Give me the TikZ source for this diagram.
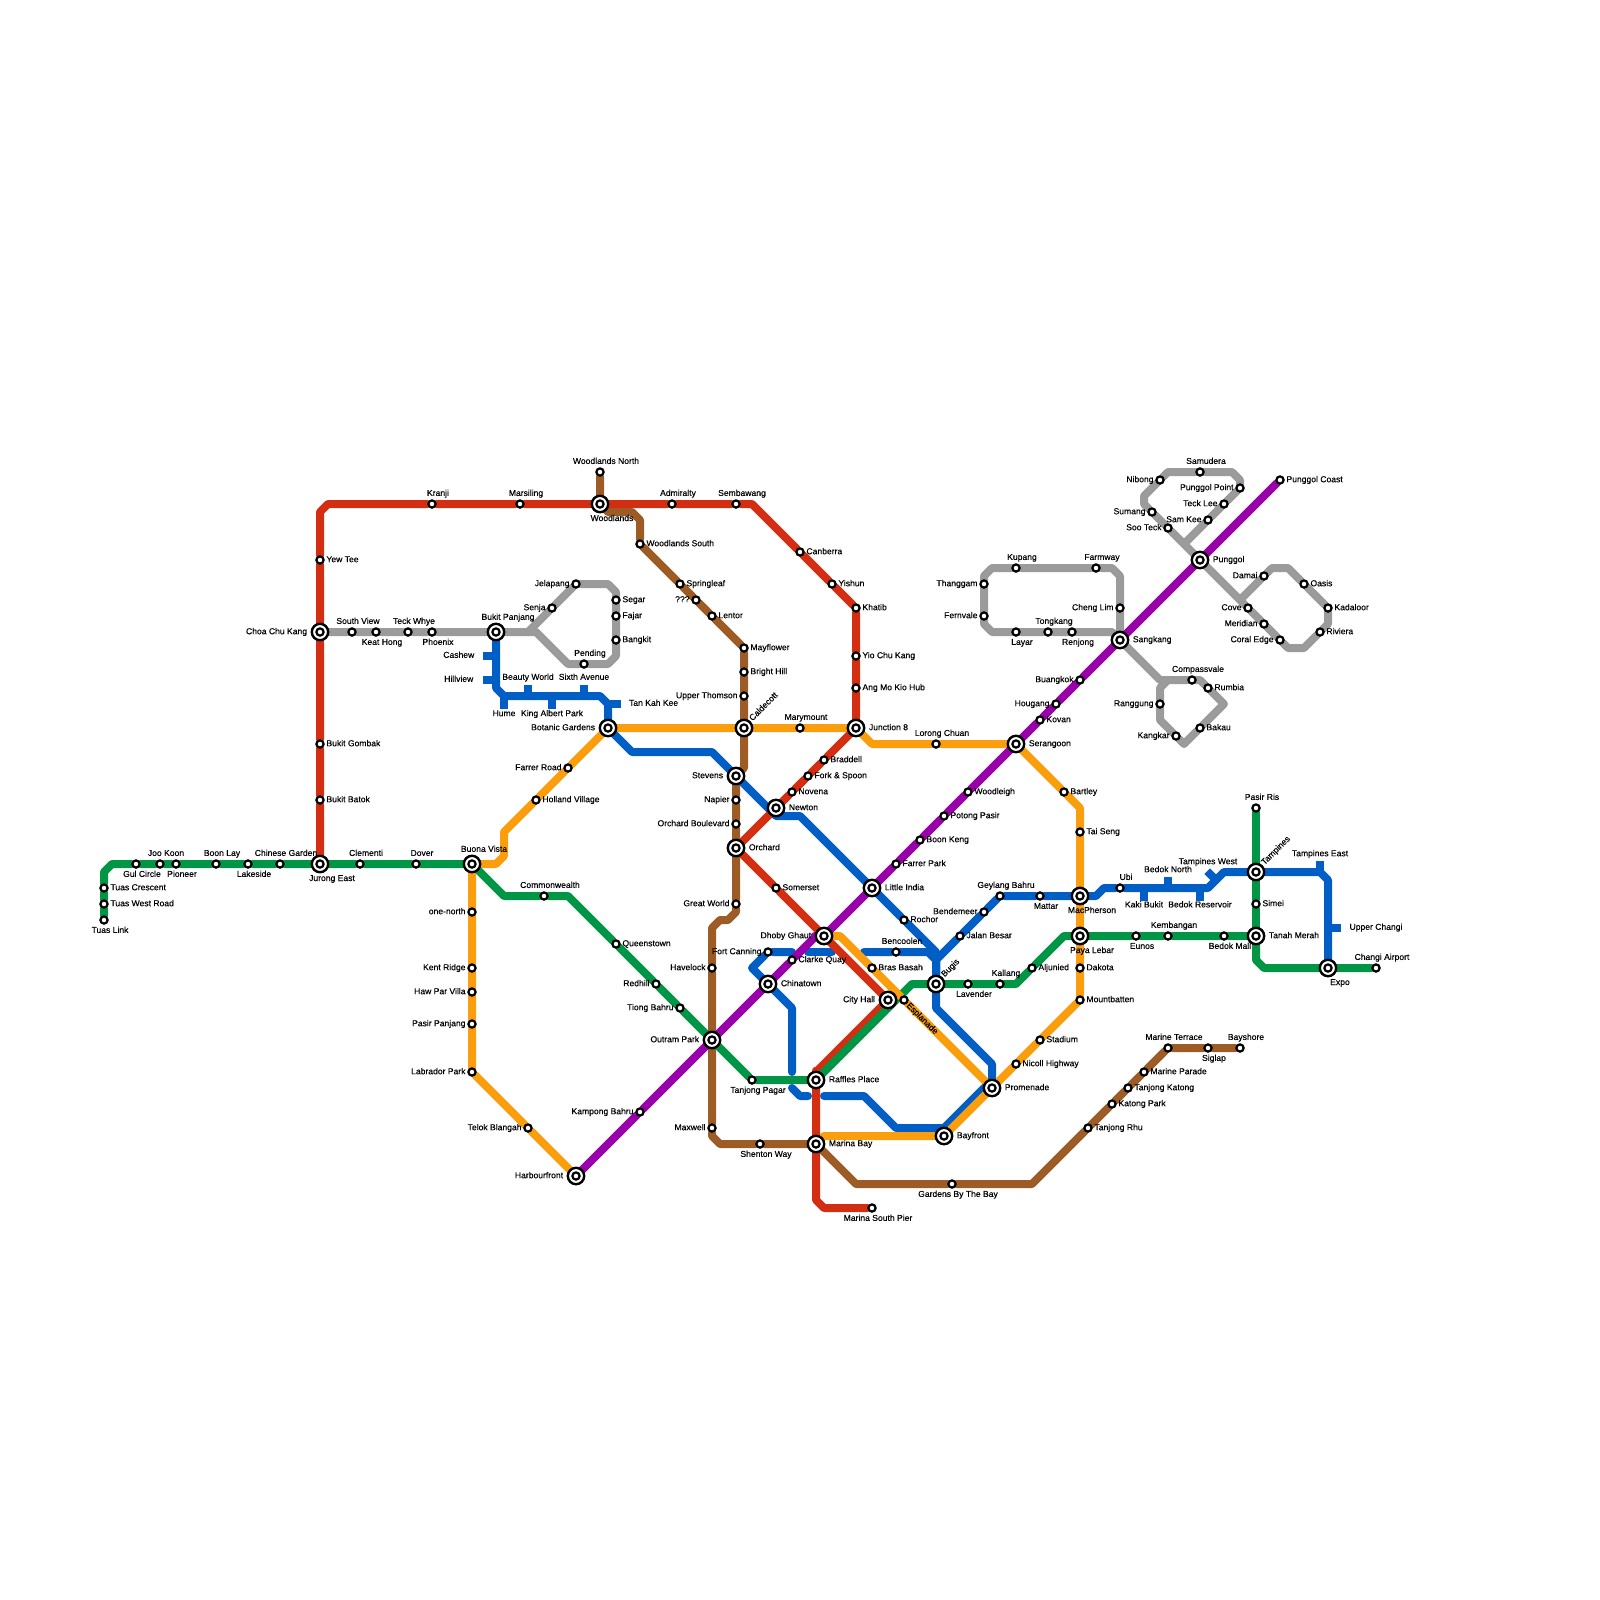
\documentclass[tikz,border=0pt]{standalone}
\usepackage{fontspec}
\setmainfont{Liberation Sans}[RawFeature={embolden=0.25}]
\definecolor{linered}{HTML}{D42E12}
\definecolor{linegreen}{HTML}{009645}
\definecolor{linepurple}{HTML}{9900AA}
\definecolor{lineorange}{HTML}{FA9E0D}
\definecolor{linebrown}{HTML}{9D5B25}
\definecolor{lineblue}{HTML}{005EC4}
\definecolor{linegrey}{HTML}{9B9B9B}
\pgfdeclarelayer{lines}
\pgfsetlayers{lines,main}
\tikzset{
  lbl/.style={font=\fontsize{3.05pt}{3.6pt}\selectfont,inner sep=0pt,text height=.75mm,text depth=.2mm},
  stn/.style={circle,draw=black,fill=white,line width=.28mm,minimum size=.9mm,inner sep=0pt},
  hub/.style={circle,draw=black,fill=white,line width=.3mm,minimum size=2.05mm,inner sep=0pt,
    path picture={\draw[line width=.28mm] (path picture bounding box.center) circle (.45mm);}},
  la/.style={label={[lbl,xshift=.75mm,label distance=.15mm]90:#1}},
  lb/.style={label={[lbl,xshift=.75mm,label distance=.2mm]-90:#1}},
  ll/.style={label={[lbl,label distance=.15mm]180:#1}},
  lr/.style={label={[lbl,label distance=.15mm]0:#1}},
  ha/.style={label={[lbl,xshift=1.5mm,label distance=.08mm]90:#1}},
  hb/.style={label={[lbl,xshift=1.5mm,label distance=.13mm]-90:#1}},
  hl/.style={label={[lbl,label distance=.37mm]180:#1}},
  hr/.style={label={[lbl,label distance=.37mm]0:#1}},
  rotup/.style={label={[lbl,rotate=45,anchor=west,label distance=.15mm]45:#1}},
  rotdn/.style={label={[lbl,rotate=-45,anchor=west,label distance=.1mm]-45:#1}},
  ln/.style={line width=1mm,line join=round,line cap=round},
  tick/.style={line width=1mm,line cap=butt,lineblue},
}
\begin{document}
\begin{tikzpicture}[x=1mm,y=-1mm]
  \useasboundingbox (0,0) rectangle (200,200);

  \node[stn,lb=Tuas Link] (tuaslink) at (13,115) {};
  \node[stn,lr=Tuas West Road] (tuaswestroad) at (13,113) {};
  \node[stn,lr=Tuas Crescent] (tuascrescent) at (13,111) {};
  \node[stn,lb=Gul Circle] (gulcircle) at (17,108) {};
  \node[stn,la=Joo Koon] (jookoon) at (20,108) {};
  \node[stn,lb=Pioneer] (pioneer) at (22,108) {};
  \node[stn,la=Boon Lay] (boonlay) at (27,108) {};
  \node[stn,lb=Lakeside] (lakeside) at (31,108) {};
  \node[stn,la=Chinese Garden] (chinesegarden) at (35,108) {};
  \node[hub,hb=Jurong East] (jurongeast) at (40,108) {};
  \node[stn,la=Clementi] (clementi) at (45,108) {};
  \node[stn,la=Dover] (dover) at (52,108) {};
  \node[hub,ha=Buona Vista] (buonavista) at (59,108) {};
  \node[stn,la=Commonwealth] (commonwealth) at (68,112) {};
  \node[stn,lr=Queenstown] (queenstown) at (77,118) {};
  \node[stn,ll=Redhill] (redhill) at (82,123) {};
  \node[stn,ll=Tiong Bahru] (tiongbahru) at (85,126) {};
  \node[hub,hl=Outram Park] (outrampark) at (89,130) {};
  \node[stn,lb=Tanjong Pagar] (tanjongpagar) at (94,135) {};
  \node[hub,hr=Raffles Place] (rafflesplace) at (102,135) {};
  \node[hub,hl=City Hall] (cityhall) at (111,125) {};
  \node[hub,rotup=Bugis] (bugis) at (117,123) {};
  \node[stn,lb=Lavender] (lavender) at (121,123) {};
  \node[stn,la=Kallang] (kallang) at (125,123) {};
  \node[stn,lr=Aljunied] (aljunied) at (129,121) {};
  \node[hub,hb=Paya Lebar] (payalebar) at (135,117) {};
  \node[stn,lb=Eunos] (eunos) at (142,117) {};
  \node[stn,la=Kembangan] (kembangan) at (146,117) {};
  \node[stn,lb=Bedok Mall] (bedokmall) at (153,117) {};
  \node[hub,hr=Tanah Merah] (tanahmerah) at (157,117) {};
  \node[hub,hb=Expo] (expo) at (166,121) {};
  \node[stn,la=Changi Airport] (changiairport) at (172,121) {};
  \node[stn,la=Pasir Ris] (pasirris) at (157,101) {};
  \node[hub,rotup=Tampines] (tampines) at (157,109) {};
  \node[stn,lr=Simei] (simei) at (157,113) {};

  \node[stn,lr=Yew Tee] (yewtee) at (40,70) {};
  \node[hub,hl=Choa Chu Kang] (choachukang) at (40,79) {};
  \node[stn,lr=Bukit Gombak] (bukitgombak) at (40,93) {};
  \node[stn,lr=Bukit Batok] (bukitbatok) at (40,100) {};
  \node[stn,la=Kranji] (kranji) at (54,63) {};
  \node[stn,la=Marsiling] (marsiling) at (65,63) {};
  \node[hub,hb=Woodlands] (woodlands) at (75,63) {};
  \node[stn,la=Admiralty] (admiralty) at (84,63) {};
  \node[stn,la=Sembawang] (sembawang) at (92,63) {};
  \node[stn,lr=Canberra] (canberra) at (100,69) {};
  \node[stn,lr=Yishun] (yishun) at (104,73) {};
  \node[stn,lr=Khatib] (khatib) at (107,76) {};
  \node[stn,lr=Yio Chu Kang] (yiochukang) at (107,82) {};
  \node[stn,lr=Ang Mo Kio Hub] (angmokiohub) at (107,86) {};
  \node[hub,hr=Junction 8] (junctioneight) at (107,91) {};
  \node[stn,lr=Braddell] (braddell) at (103,95) {};
  \node[stn,lr=Fork \& Spoon] (forkspoon) at (101,97) {};
  \node[stn,lr=Novena] (novena) at (99,99) {};
  \node[hub,hr=Newton] (newton) at (97,101) {};
  \node[hub,hr=Orchard] (orchard) at (92,106) {};
  \node[stn,lr=Somerset] (somerset) at (97,111) {};
  \node[hub,hl=Dhoby Ghaut] (dhobyghaut) at (103,117) {};
  \node[hub,hr=Marina Bay] (marinabay) at (102,143) {};
  \node[stn,lb=Marina South Pier] (marinasouthpier) at (109,151) {};

  \node[stn,la=South View] (southview) at (44,79) {};
  \node[stn,lb=Keat Hong] (keathong) at (47,79) {};
  \node[stn,la=Teck Whye] (teckwhye) at (51,79) {};
  \node[stn,lb=Phoenix] (phoenix) at (54,79) {};
  \node[hub,ha=Bukit Panjang] (bukitpanjang) at (62,79) {};
  \node[stn,ll=Senja] (senja) at (69,76) {};
  \node[stn,ll=Jelapang] (jelapang) at (72,73) {};
  \node[stn,lr=Segar] (segar) at (77,75) {};
  \node[stn,lr=Fajar] (fajar) at (77,77) {};
  \node[stn,lr=Bangkit] (bangkit) at (77,80) {};
  \node[stn,la=Pending] (pending) at (73,83) {};

  \node[stn,la=Woodlands North] (woodlandsnorth) at (75,59) {};
  \node[stn,lr=Woodlands South] (woodlandssouth) at (80,68) {};
  \node[stn,lr=Springleaf] (springleaf) at (85,73) {};
  \node[stn,ll=???] (unknown) at (87,75) {};
  \node[stn,lr=Lentor] (lentor) at (89,77) {};
  \node[stn,lr=Mayflower] (mayflower) at (93,81) {};
  \node[stn,lr=Bright Hill] (brighthill) at (93,84) {};
  \node[stn,ll=Upper Thomson] (upperthomson) at (93,87) {};
  \node[hub,rotup=Caldecott] (caldecott) at (93,91) {};
  \node[hub,hl=Stevens] (stevens) at (92,97) {};
  \node[stn,ll=Napier] (napier) at (92,100) {};
  \node[stn,ll=Orchard Boulevard] (orchardboulevard) at (92,103) {};
  \node[stn,ll=Great World] (greatworld) at (92,113) {};
  \node[stn,ll=Havelock] (havelock) at (89,121) {};
  \node[stn,ll=Maxwell] (maxwell) at (89,141) {};
  \node[stn,lb=Shenton Way] (shentonway) at (95,143) {};
  \node[stn,lb=Gardens By The Bay] (gardensbythebay) at (119,148) {};
  \node[stn,lr=Tanjong Rhu] (tanjongrhu) at (136,141) {};
  \node[stn,lr=Katong Park] (katongpark) at (139,138) {};
  \node[stn,lr=Tanjong Katong] (tanjongkatong) at (141,136) {};
  \node[stn,lr=Marine Parade] (marineparade) at (143,134) {};
  \node[stn,la=Marine Terrace] (marineterrace) at (146,131) {};
  \node[stn,lb=Siglap] (siglap) at (151,131) {};
  \node[stn,la=Bayshore] (bayshore) at (155,131) {};

  \node[hub,hl=Harbourfront] (harbourfront) at (72,147) {};
  \node[stn,ll=Telok Blangah] (telokblangah) at (66,141) {};
  \node[stn,ll=Labrador Park] (labradorpark) at (59,134) {};
  \node[stn,ll=Pasir Panjang] (pasirpanjang) at (59,128) {};
  \node[stn,ll=Haw Par Villa] (hawparvilla) at (59,124) {};
  \node[stn,ll=Kent Ridge] (kentridge) at (59,121) {};
  \node[stn,ll=one-north] (onenorth) at (59,114) {};
  \node[stn,lr=Holland Village] (hollandvillage) at (67,100) {};
  \node[stn,ll=Farrer Road] (farrerroad) at (71,96) {};
  \node[hub,hl=Botanic Gardens] (botanicgardens) at (76,91) {};
  \node[stn,la=Marymount] (marymount) at (100,91) {};
  \node[stn,la=Lorong Chuan] (lorongchuan) at (117,93) {};
  \node[hub,hr=Serangoon] (serangoon) at (127,93) {};
  \node[stn,lr=Bartley] (bartley) at (133,99) {};
  \node[stn,lr=Tai Seng] (taiseng) at (135,104) {};
  \node[hub,hb=MacPherson] (macpherson) at (135,112) {};
  \node[stn,lr=Dakota] (dakota) at (135,121) {};
  \node[stn,lr=Mountbatten] (mountbatten) at (135,125) {};
  \node[stn,lr=Stadium] (stadium) at (130,130) {};
  \node[stn,lr=Nicoll Highway] (nicollhighway) at (127,133) {};
  \node[hub,hr=Promenade] (promenade) at (124,136) {};
  \node[hub,hr=Bayfront] (bayfront) at (118,142) {};
  \node[stn,rotdn=Esplanade] (esplanade) at (113,125) {};
  \node[stn,lr=Bras Basah] (brasbasah) at (109,121) {};

  \node[stn,ll=Kampong Bahru] (kampongbahru) at (80,139) {};
  \node[hub,hr=Chinatown] (chinatown) at (96,123) {};
  \node[stn,lr=Clarke Quay] (clarkequay) at (99,120) {};
  \node[hub,hr=Little India] (littleindia) at (109,111) {};
  \node[stn,lr=Farrer Park] (farrerpark) at (112,108) {};
  \node[stn,lr=Boon Keng] (boonkeng) at (115,105) {};
  \node[stn,lr=Potong Pasir] (potongpasir) at (118,102) {};
  \node[stn,lr=Woodleigh] (woodleigh) at (121,99) {};
  \node[stn,lr=Kovan] (kovan) at (130,90) {};
  \node[stn,ll=Hougang] (hougang) at (132,88) {};
  \node[stn,ll=Buangkok] (buangkok) at (135,85) {};
  \node[hub,hr=Sangkang] (sangkang) at (140,80) {};
  \node[hub,hr=Punggol] (punggol) at (150,70) {};
  \node[stn,lr=Punggol Coast] (punggolcoast) at (160,60) {};

  \node[stn,ll=Fort Canning] (fortcanning) at (96,119) {};
  \node[stn,la=Bencoolen] (bencoolen) at (112,119) {};
  \node[stn,lr=Rochor] (rochor) at (113,115) {};
  \node[stn,lr=Jalan Besar] (jalanbesar) at (120,117) {};
  \node[stn,ll=Bendemeer] (bendemeer) at (123,114) {};
  \node[stn,la=Geylang Bahru] (geylangbahru) at (125,112) {};
  \node[stn,lb=Mattar] (mattar) at (130,112) {};
  \node[stn,la=Ubi] (ubi) at (140,111) {};

  \node[stn,la=Kupang] (kupang) at (127,71) {};
  \node[stn,la=Farmway] (farmway) at (137,71) {};
  \node[stn,ll=Thanggam] (thanggam) at (123,73) {};
  \node[stn,ll=Fernvale] (fernvale) at (123,77) {};
  \node[stn,lb=Layar] (layar) at (127,79) {};
  \node[stn,la=Tongkang] (tongkang) at (131,79) {};
  \node[stn,lb=Renjong] (renjong) at (134,79) {};
  \node[stn,ll=Cheng Lim] (chenglim) at (140,76) {};
  \node[stn,la=Samudera] (samudera) at (150,59) {};
  \node[stn,ll=Nibong] (nibong) at (145,60) {};
  \node[stn,ll=Sumang] (sumang) at (144,64) {};
  \node[stn,ll=Soo Teck] (sooteck) at (146,66) {};
  \node[stn,ll=Sam Kee] (samkee) at (151,65) {};
  \node[stn,ll=Teck Lee] (tecklee) at (153,63) {};
  \node[stn,ll=Punggol Point] (punggolpoint) at (155,61) {};
  \node[stn,ll=Damai] (damai) at (158,72) {};
  \node[stn,ll=Cove] (cove) at (156,76) {};
  \node[stn,ll=Meridian] (meridian) at (158,78) {};
  \node[stn,ll=Coral Edge] (coraledge) at (160,80) {};
  \node[stn,lr=Oasis] (oasis) at (163,73) {};
  \node[stn,lr=Kadaloor] (kadaloor) at (166,76) {};
  \node[stn,lr=Riviera] (riviera) at (165,79) {};
  \node[stn,la=Compassvale] (compassvale) at (149,85) {};
  \node[stn,lr=Rumbia] (rumbia) at (151,86) {};
  \node[stn,ll=Ranggung] (ranggung) at (145,88) {};
  \node[stn,ll=Kangkar] (kangkar) at (147,92) {};
  \node[stn,lr=Bakau] (bakau) at (150,91) {};

  \node[lbl] (cashew) at (57.35,81.95) {Cashew};
  \node[lbl] (hillview) at (57.35,84.95) {Hillview};
  \node[lbl] (hume) at (63,89.25) {Hume};
  \node[lbl] (beautyworld) at (66,84.7) {Beauty World};
  \node[lbl] (kingalbertpark) at (69,89.25) {King Albert Park};
  \node[lbl] (sixthavenue) at (73,84.7) {Sixth Avenue};
  \node[lbl] (tankahkee) at (81.7,87.95) {Tan Kah Kee};
  \node[lbl] (bedoknorth) at (146,108.75) {Bedok North};
  \node[lbl] (kakibukit) at (143,113.15) {Kaki Bukit};
  \node[lbl] (bedokreservoir) at (150,113.15) {Bedok Reservoir};
  \node[lbl] (tampineswest) at (151,107.75) {Tampines West};
  \node[lbl] (tampineseast) at (165,106.75) {Tampines East};
  \node[lbl] (upperchangi) at (172,115.95) {Upper Changi};

  \coordinate (cashewA) at (62,82);       \coordinate (cashewB) at (60.4,82);
  \coordinate (hillviewA) at (62,85);     \coordinate (hillviewB) at (60.4,85);
  \coordinate (humeA) at (63,87);         \coordinate (humeB) at (63,88.6);
  \coordinate (beautyA) at (66,87);       \coordinate (beautyB) at (66,85.6);
  \coordinate (kingA) at (69,87);         \coordinate (kingB) at (69,88.6);
  \coordinate (sixthA) at (73,87);        \coordinate (sixthB) at (73,85.6);
  \coordinate (tankahA) at (76,88);       \coordinate (tankahB) at (77.6,88);
  \coordinate (bedoknA) at (146,111);     \coordinate (bedoknB) at (146,109.6);
  \coordinate (kakiA) at (143,111);       \coordinate (kakiB) at (143,112.6);
  \coordinate (bedokrA) at (150,111);     \coordinate (bedokrB) at (150,112.6);
  \coordinate (tampwA) at (152,110);      \coordinate (tampwB) at (150.9,108.9);
  \coordinate (tampeA) at (165,109);      \coordinate (tampeB) at (165,107.6);
  \coordinate (changiA) at (166,116);     \coordinate (changiB) at (167.6,116);

  \coordinate (gy1) at (67,79);   \coordinate (gy2) at (66,79);   \coordinate (gy3) at (76,73);
  \coordinate (gy4) at (77,74);   \coordinate (gy5) at (77,82);   \coordinate (gy6) at (76,83);
  \coordinate (gy7) at (71,83);   \coordinate (gy8) at (139,79);  \coordinate (gy9) at (124,79);
  \coordinate (gy10) at (123,78); \coordinate (gy11) at (123,72); \coordinate (gy12) at (124,71);
  \coordinate (gy13) at (139,71); \coordinate (gy14) at (140,72); \coordinate (gy15) at (140,78);
  \coordinate (gy16) at (145,85); \coordinate (gy17) at (150,85); \coordinate (gy18) at (153,88);
  \coordinate (gy19) at (148,93); \coordinate (gy20) at (145,90); \coordinate (gy21) at (145,86);
  \coordinate (gy22) at (146,85); \coordinate (gy23) at (148,68); \coordinate (gy24) at (143,63);
  \coordinate (gy25) at (143,62); \coordinate (gy26) at (146,59); \coordinate (gy27) at (154,59);
  \coordinate (gy28) at (155,60); \coordinate (gy29) at (155,75); \coordinate (gy30) at (161,81);
  \coordinate (gy31) at (163,81); \coordinate (gy32) at (166,78); \coordinate (gy33) at (161,71);
  \coordinate (gy34) at (159,71);

  \coordinate (bl1) at (62,86);   \coordinate (bl2) at (63,87);   \coordinate (bl3) at (75,87);
  \coordinate (bl4) at (76,88);   \coordinate (bl5) at (79,94);   \coordinate (bl6) at (89,94);
  \coordinate (bl7) at (97,102);  \coordinate (bl8) at (100,102); \coordinate (bl9) at (117,119);
  \coordinate (bl10) at (117,126);\coordinate (bl11) at (124,133);\coordinate (bl12) at (124,135);
  \coordinate (bl13) at (123,136);\coordinate (bl14) at (118,141);\coordinate (bl15) at (112,141);
  \coordinate (bl16) at (108,137);\coordinate (bl17) at (103,137);\coordinate (bl18) at (101,137);
  \coordinate (bl19) at (100,137);\coordinate (bl20) at (99,136); \coordinate (bl21) at (99,134);
  \coordinate (bl22) at (99,126); \coordinate (bl23) at (94,121); \coordinate (bl24) at (99,119);
  \coordinate (bl25) at (101,119);\coordinate (bl26) at (104,119);\coordinate (bl27) at (108,119);
  \coordinate (bl28) at (116,119);\coordinate (bl29) at (117,120);\coordinate (bl30) at (137,112);
  \coordinate (bl31) at (138,111);\coordinate (bl32) at (151,111);\coordinate (bl33) at (153,109);
  \coordinate (bl34) at (165,109);\coordinate (bl35) at (166,110);

  \coordinate (br1) at (76,64);   \coordinate (br2) at (79,64);   \coordinate (br3) at (80,65);
  \coordinate (br4) at (93,96);   \coordinate (br5) at (92,114);  \coordinate (br6) at (91,115);
  \coordinate (br7) at (90,115);  \coordinate (br8) at (89,116);  \coordinate (br9) at (89,142);
  \coordinate (br10) at (90,143); \coordinate (br11) at (107,148);\coordinate (br12) at (129,148);

  \coordinate (gn1) at (13,109);  \coordinate (gn2) at (14,108);  \coordinate (gn3) at (63,112);
  \coordinate (gn4) at (71,112);  \coordinate (gn5) at (114,123); \coordinate (gn6) at (127,123);
  \coordinate (gn7) at (133,117); \coordinate (gn8) at (157,120); \coordinate (gn9) at (158,121);

  \coordinate (rd1) at (40,64);   \coordinate (rd2) at (41,63);   \coordinate (rd3) at (94,63);
  \coordinate (rd4) at (102,134); \coordinate (rd5) at (102,150); \coordinate (rd6) at (103,151);

  \coordinate (or1) at (62,108);  \coordinate (or2) at (63,107);  \coordinate (or3) at (63,104);
  \coordinate (or4) at (109,93);  \coordinate (or5) at (135,101); \coordinate (or6) at (105,117);
  \coordinate (or7) at (103,142);

  \coordinate (pu1) at (102,117);

  \begin{pgfonlayer}{lines}
    \draw[ln,linegrey] (choachukang) -- (southview) -- (keathong) -- (teckwhye) -- (phoenix) -- (bukitpanjang) -- (gy1) -- (gy7) -- (pending) -- (gy6) -- (gy5) -- (bangkit) -- (fajar) -- (segar) -- (gy4) -- (gy3) -- (jelapang) -- (senja) -- (gy2);
    \draw[ln,linegrey] (sangkang) -- (gy8) -- (renjong) -- (tongkang) -- (layar) -- (gy9) -- (gy10) -- (fernvale) -- (thanggam) -- (gy11) -- (gy12) -- (kupang) -- (farmway) -- (gy13) -- (gy14) -- (chenglim) -- (gy15) -- (sangkang);
    \draw[ln,linegrey] (sangkang) -- (gy16) -- (compassvale) -- (gy17) -- (rumbia) -- (gy18) -- (bakau) -- (gy19) -- (kangkar) -- (gy20) -- (ranggung) -- (gy21) -- (gy22);
    \draw[ln,linegrey] (punggol) -- (gy23) -- (sooteck) -- (sumang) -- (gy24) -- (gy25) -- (nibong) -- (gy26) -- (samudera) -- (gy27) -- (gy28) -- (punggolpoint) -- (tecklee) -- (samkee) -- (gy23);
    \draw[ln,linegrey] (punggol) -- (gy29) -- (cove) -- (meridian) -- (coraledge) -- (gy30) -- (gy31) -- (riviera) -- (gy32) -- (kadaloor) -- (oasis) -- (gy33) -- (gy34) -- (damai) -- (gy29);

    \draw[ln,lineblue] (bukitpanjang) -- (bl1) -- (bl2) -- (bl3) -- (bl4) -- (botanicgardens) -- (bl5) -- (bl6) -- (stevens) -- (bl7) -- (bl8) -- (littleindia) -- (rochor) -- (bl9) -- (bugis) -- (bl10) -- (bl11) -- (bl12) -- (bl13) -- (bl14) -- (bl15) -- (bl16) -- (bl17);
    \draw[ln,lineblue] (bl18) -- (bl19) -- (bl20);
    \draw[ln,lineblue] (bl21) -- (bl22) -- (chinatown) -- (bl23) -- (fortcanning) -- (bl24);
    \draw[ln,lineblue] (bl25) -- (bl26);
    \draw[ln,lineblue] (bl27) -- (bencoolen) -- (bl28) -- (bl29) -- (bugis);
    \draw[ln,lineblue] (bugis) -- (bl29) -- (jalanbesar) -- (bendemeer) -- (geylangbahru) -- (mattar) -- (macpherson) -- (bl30) -- (bl31) -- (ubi) -- (bl32) -- (bl33) -- (tampines) -- (bl34) -- (bl35) -- (expo);
    \draw[tick] (cashewA) -- (cashewB);
    \draw[tick] (hillviewA) -- (hillviewB);
    \draw[tick] (humeA) -- (humeB);
    \draw[tick] (beautyA) -- (beautyB);
    \draw[tick] (kingA) -- (kingB);
    \draw[tick] (sixthA) -- (sixthB);
    \draw[tick] (tankahA) -- (tankahB);
    \draw[tick] (bedoknA) -- (bedoknB);
    \draw[tick] (kakiA) -- (kakiB);
    \draw[tick] (bedokrA) -- (bedokrB);
    \draw[tick] (tampwA) -- (tampwB);
    \draw[tick] (tampeA) -- (tampeB);
    \draw[tick] (changiA) -- (changiB);

    \draw[ln,linebrown] (woodlandsnorth) -- (woodlands) -- (br1) -- (br2) -- (br3) -- (woodlandssouth) -- (springleaf) -- (unknown) -- (lentor) -- (mayflower) -- (brighthill) -- (upperthomson) -- (caldecott) -- (br4) -- (stevens) -- (napier) -- (orchardboulevard) -- (orchard) -- (greatworld) -- (br5) -- (br6) -- (br7) -- (br8) -- (havelock) -- (outrampark) -- (maxwell) -- (br9) -- (br10) -- (shentonway) -- (marinabay) -- (br11) -- (gardensbythebay) -- (br12) -- (tanjongrhu) -- (katongpark) -- (tanjongkatong) -- (marineparade) -- (marineterrace) -- (siglap) -- (bayshore);

    \draw[ln,linered] (jurongeast) -- (bukitbatok) -- (bukitgombak) -- (choachukang) -- (yewtee) -- (rd1) -- (rd2) -- (kranji) -- (marsiling) -- (woodlands) -- (admiralty) -- (sembawang) -- (rd3) -- (canberra) -- (yishun) -- (khatib) -- (yiochukang) -- (angmokiohub) -- (junctioneight) -- (braddell) -- (forkspoon) -- (novena) -- (newton) -- (orchard) -- (somerset) -- (dhobyghaut) -- (cityhall) -- (rd4) -- (rafflesplace) -- (marinabay) -- (rd5) -- (rd6) -- (marinasouthpier);

    \draw[ln,linegreen] (tuaslink) -- (tuaswestroad) -- (tuascrescent) -- (gn1) -- (gn2) -- (gulcircle) -- (jookoon) -- (pioneer) -- (boonlay) -- (lakeside) -- (chinesegarden) -- (jurongeast) -- (clementi) -- (dover) -- (buonavista) -- (gn3) -- (commonwealth) -- (gn4) -- (queenstown) -- (redhill) -- (tiongbahru) -- (outrampark) -- (tanjongpagar) -- (rafflesplace) -- (gn5) -- (bugis) -- (lavender) -- (kallang) -- (gn6) -- (aljunied) -- (gn7) -- (payalebar) -- (eunos) -- (kembangan) -- (bedokmall) -- (tanahmerah) -- (gn8) -- (gn9) -- (expo) -- (changiairport);
    \draw[ln,linegreen] (pasirris) -- (tampines) -- (simei) -- (tanahmerah);

    \draw[ln,lineorange] (harbourfront) -- (telokblangah) -- (labradorpark) -- (pasirpanjang) -- (hawparvilla) -- (kentridge) -- (onenorth) -- (buonavista) -- (or1) -- (or2) -- (or3) -- (hollandvillage) -- (farrerroad) -- (botanicgardens) -- (caldecott) -- (marymount) -- (junctioneight) -- (or4) -- (lorongchuan) -- (serangoon) -- (bartley) -- (or5) -- (taiseng) -- (macpherson) -- (payalebar) -- (dakota) -- (mountbatten) -- (stadium) -- (nicollhighway) -- (promenade) -- (esplanade) -- (brasbasah) -- (or6) -- (dhobyghaut);
    \draw[ln,lineorange] (promenade) -- (bayfront) -- (or7) -- (marinabay);

    \draw[ln,linepurple] (harbourfront) -- (kampongbahru) -- (outrampark) -- (chinatown) -- (clarkequay) -- (pu1) -- (dhobyghaut) -- (littleindia) -- (farrerpark) -- (boonkeng) -- (potongpasir) -- (woodleigh) -- (serangoon) -- (kovan) -- (hougang) -- (buangkok) -- (sangkang) -- (punggol) -- (punggolcoast);
  \end{pgfonlayer}
\end{tikzpicture}
\end{document}
